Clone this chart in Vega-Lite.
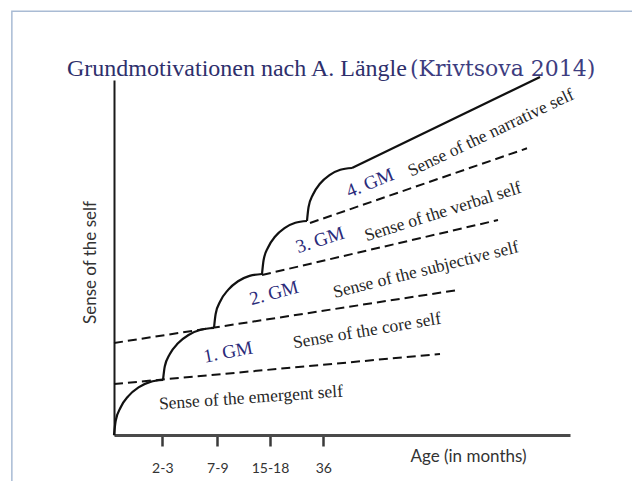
{
  "$schema": "https://vega.github.io/schema/vega-lite/v6.json",
  "width": 456,
  "height": 355,
  "autosize": {"type": "none"},
  "padding": {"left": 114, "top": 80, "right": 62, "bottom": 46},
  "background": "white",
  "config": {"view": {"stroke": null}},
  "encoding": {
    "x": {"type": "quantitative"},
    "y": {"type": "quantitative"}
  },
  "layer": [
    {
      "data": {"values": [{"x": -22.4, "x2": 125, "y": -15, "y2": 119.4}]},
      "mark": {"type": "rect", "fill": null, "stroke": "#a9bbd4", "strokeWidth": 1.5},
      "encoding": {
        "x": {"field": "x", "type": "quantitative", "scale": {"domain": [0, 100], "nice": false, "zero": false}, "axis": {
          "values": [10.59, 22.65, 34.21, 45.9],
          "labelExpr": "datum.value < 15 ? '2-3' : datum.value < 28 ? '7-9' : datum.value < 40 ? '15-18' : '36'",
          "grid": false,
          "tickSize": 11, "tickWidth": 2.5, "tickColor": "#3a3a3a",
          "domainColor": "#4a4a4a", "domainWidth": 3,
          "labelFont": "Lato", "labelFontSize": 14, "labelColor": "#333333", "labelPadding": 15,
          "title": "Age (in months)", "titleX": 354, "titleY": 21, "titleAlign": "center", "titleBaseline": "middle",
          "titleFont": "Lato", "titleFontSize": 17, "titleFontWeight": "normal", "titleColor": "#333333"
        }},
        "x2": {"field": "x2"},
        "y": {"field": "y", "type": "quantitative", "scale": {"domain": [0, 100], "nice": false, "zero": false}, "axis": {
          "ticks": false, "labels": false, "grid": false,
          "domainColor": "#1a1a1a", "domainWidth": 2,
          "title": "Sense of the self", "titleX": -24, "titleY": 182, "titleAngle": 270, "titleAlign": "center", "titleBaseline": "middle",
          "titleFont": "Lato", "titleFontSize": 17, "titleFontWeight": "normal", "titleColor": "#333333"
        }},
        "y2": {"field": "y2"}
      }
    },
    {
      "data": {"values": [
        {"seg": "a1", "i": 0, "x": 0, "y": 0},
        {"seg": "a1", "i": 1, "x": 0.37, "y": 4.01},
        {"seg": "a1", "i": 2, "x": 1.44, "y": 7.75},
        {"seg": "a1", "i": 3, "x": 3.15, "y": 10.96},
        {"seg": "a1", "i": 4, "x": 5.38, "y": 13.42},
        {"seg": "a1", "i": 5, "x": 7.97, "y": 14.97},
        {"seg": "a1", "i": 6, "x": 10.75, "y": 15.5},
        {"seg": "a2", "i": 0, "x": 10.75, "y": 15.49},
        {"seg": "a2", "i": 1, "x": 11.13, "y": 19.28},
        {"seg": "a2", "i": 2, "x": 12.25, "y": 22.82},
        {"seg": "a2", "i": 3, "x": 14.03, "y": 25.85},
        {"seg": "a2", "i": 4, "x": 16.34, "y": 28.18},
        {"seg": "a2", "i": 5, "x": 19.03, "y": 29.64},
        {"seg": "a2", "i": 6, "x": 21.93, "y": 30.14},
        {"seg": "a3", "i": 0, "x": 21.93, "y": 30.14},
        {"seg": "a3", "i": 1, "x": 22.29, "y": 34.08},
        {"seg": "a3", "i": 2, "x": 23.34, "y": 37.75},
        {"seg": "a3", "i": 3, "x": 25.02, "y": 40.89},
        {"seg": "a3", "i": 4, "x": 27.2, "y": 43.31},
        {"seg": "a3", "i": 5, "x": 29.73, "y": 44.83},
        {"seg": "a3", "i": 6, "x": 32.46, "y": 45.35},
        {"seg": "a4", "i": 0, "x": 32.46, "y": 45.35},
        {"seg": "a4", "i": 1, "x": 32.8, "y": 49.22},
        {"seg": "a4", "i": 2, "x": 33.78, "y": 52.82},
        {"seg": "a4", "i": 3, "x": 35.35, "y": 55.91},
        {"seg": "a4", "i": 4, "x": 37.39, "y": 58.28},
        {"seg": "a4", "i": 5, "x": 39.77, "y": 59.77},
        {"seg": "a4", "i": 6, "x": 42.32, "y": 60.28},
        {"seg": "a5", "i": 0, "x": 42.32, "y": 60.28},
        {"seg": "a5", "i": 1, "x": 42.66, "y": 64.15},
        {"seg": "a5", "i": 2, "x": 43.64, "y": 67.75},
        {"seg": "a5", "i": 3, "x": 45.21, "y": 70.84},
        {"seg": "a5", "i": 4, "x": 47.26, "y": 73.21},
        {"seg": "a5", "i": 5, "x": 49.63, "y": 74.7},
        {"seg": "a5", "i": 6, "x": 52.19, "y": 75.21},
        {"seg": "top", "i": 0, "x": 52.19, "y": 75.21},
        {"seg": "top", "i": 1, "x": 93.42, "y": 100.85}
      ]},
      "mark": {"type": "line", "interpolate": "monotone", "color": "#111111", "strokeWidth": 2.2},
      "encoding": {
        "x": {"field": "x", "type": "quantitative"},
        "y": {"field": "y", "type": "quantitative"},
        "detail": {"field": "seg"},
        "order": {"field": "i", "type": "quantitative"}
      }
    },
    {
      "data": {"values": [
        {"line": "d1", "i": 0, "x": 0, "y": 14.37},
        {"line": "d1", "i": 1, "x": 71.49, "y": 22.82},
        {"line": "d2", "i": 0, "x": 0, "y": 25.92},
        {"line": "d2", "i": 1, "x": 75.44, "y": 40.85},
        {"line": "d3", "i": 0, "x": 32.46, "y": 45.07},
        {"line": "d3", "i": 1, "x": 84.21, "y": 60.56},
        {"line": "d4", "i": 0, "x": 42.98, "y": 59.72},
        {"line": "d4", "i": 1, "x": 90.57, "y": 80.76}
      ]},
      "mark": {"type": "line", "color": "#111111", "strokeWidth": 2, "strokeDash": [9, 5]},
      "encoding": {
        "x": {"field": "x", "type": "quantitative"},
        "y": {"field": "y", "type": "quantitative"},
        "detail": {"field": "line"},
        "order": {"field": "i", "type": "quantitative"}
      }
    },
    {
      "data": {"values": [{"label": "Sense of the emergent self", "x": 30.04, "y": 10.42}]},
      "mark": {"type": "text", "font": "Liberation Serif", "fontSize": 17.5, "color": "#262626", "angle": 356, "align": "center", "baseline": "middle"},
      "encoding": {"x": {"field": "x", "type": "quantitative"}, "y": {"field": "y", "type": "quantitative"}, "text": {"field": "label"}}
    },
    {
      "data": {"values": [{"label": "Sense of the core self", "x": 55.48, "y": 29.3}]},
      "mark": {"type": "text", "font": "Liberation Serif", "fontSize": 17.5, "color": "#262626", "angle": 350.5, "align": "center", "baseline": "middle"},
      "encoding": {"x": {"field": "x", "type": "quantitative"}, "y": {"field": "y", "type": "quantitative"}, "text": {"field": "label"}}
    },
    {
      "data": {"values": [{"label": "Sense of the subjective self", "x": 68.42, "y": 46.48}]},
      "mark": {"type": "text", "font": "Liberation Serif", "fontSize": 17.5, "color": "#262626", "angle": 346, "align": "center", "baseline": "middle"},
      "encoding": {"x": {"field": "x", "type": "quantitative"}, "y": {"field": "y", "type": "quantitative"}, "text": {"field": "label"}}
    },
    {
      "data": {"values": [{"label": "Sense of the verbal self", "x": 72.15, "y": 62.82}]},
      "mark": {"type": "text", "font": "Liberation Serif", "fontSize": 17.5, "color": "#262626", "angle": 342.5, "align": "center", "baseline": "middle"},
      "encoding": {"x": {"field": "x", "type": "quantitative"}, "y": {"field": "y", "type": "quantitative"}, "text": {"field": "label"}}
    },
    {
      "data": {"values": [{"label": "Sense of the narrative self", "x": 82.68, "y": 85.07}]},
      "mark": {"type": "text", "font": "Liberation Serif", "fontSize": 17.5, "color": "#262626", "angle": 334.5, "align": "center", "baseline": "middle"},
      "encoding": {"x": {"field": "x", "type": "quantitative"}, "y": {"field": "y", "type": "quantitative"}, "text": {"field": "label"}}
    },
    {
      "data": {"values": [{"label": "1. GM", "x": 25.0, "y": 23.38}]},
      "mark": {"type": "text", "font": "Liberation Serif", "fontSize": 19, "color": "#2b2b7a", "angle": 349, "align": "center", "baseline": "middle"},
      "encoding": {"x": {"field": "x", "type": "quantitative"}, "y": {"field": "y", "type": "quantitative"}, "text": {"field": "label"}}
    },
    {
      "data": {"values": [{"label": "2. GM", "x": 35.09, "y": 40.0}]},
      "mark": {"type": "text", "font": "Liberation Serif", "fontSize": 19, "color": "#2b2b7a", "angle": 345, "align": "center", "baseline": "middle"},
      "encoding": {"x": {"field": "x", "type": "quantitative"}, "y": {"field": "y", "type": "quantitative"}, "text": {"field": "label"}}
    },
    {
      "data": {"values": [{"label": "3. GM", "x": 45.18, "y": 54.93}]},
      "mark": {"type": "text", "font": "Liberation Serif", "fontSize": 19, "color": "#2b2b7a", "angle": 342, "align": "center", "baseline": "middle"},
      "encoding": {"x": {"field": "x", "type": "quantitative"}, "y": {"field": "y", "type": "quantitative"}, "text": {"field": "label"}}
    },
    {
      "data": {"values": [{"label": "4. GM", "x": 56.14, "y": 70.99}]},
      "mark": {"type": "text", "font": "Liberation Serif", "fontSize": 19, "color": "#2b2b7a", "angle": 338, "align": "center", "baseline": "middle"},
      "encoding": {"x": {"field": "x", "type": "quantitative"}, "y": {"field": "y", "type": "quantitative"}, "text": {"field": "label"}}
    },
    {
      "data": {"values": [{"label": "Grundmotivationen nach A. Längle", "x": -10.31, "y": 101.13}]},
      "mark": {"type": "text", "font": "Liberation Serif", "fontSize": 24, "color": "#2e2f6c", "align": "left", "baseline": "alphabetic"},
      "encoding": {"x": {"field": "x", "type": "quantitative"}, "y": {"field": "y", "type": "quantitative"}, "text": {"field": "label"}}
    },
    {
      "data": {"values": [{"label": "(Krivtsova 2014)", "x": 64.9, "y": 101.13}]},
      "mark": {"type": "text", "font": "DejaVu Serif", "fontSize": 22, "color": "#3d3d80", "align": "left", "baseline": "alphabetic"},
      "encoding": {"x": {"field": "x", "type": "quantitative"}, "y": {"field": "y", "type": "quantitative"}, "text": {"field": "label"}}
    }
  ]
}
